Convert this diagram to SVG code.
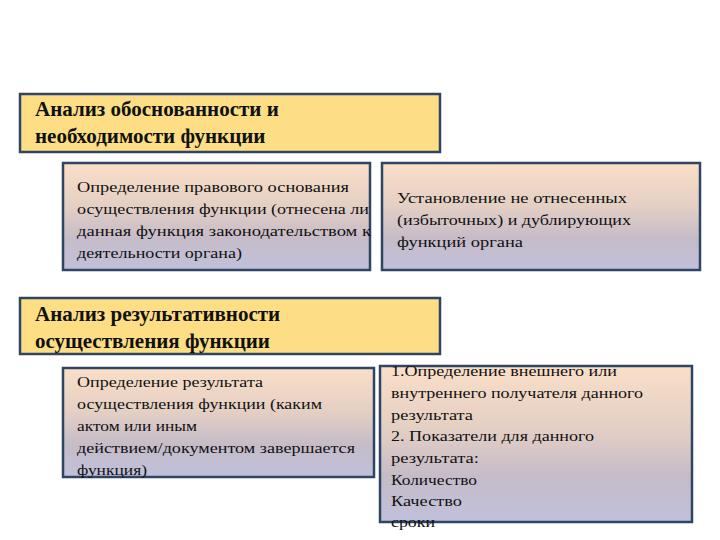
<svg xmlns="http://www.w3.org/2000/svg" width="720" height="540" viewBox="0 0 720 540">
<style>
.h{fill:#fdde85;stroke:#2f4563;stroke-width:2.5}
.b{fill:url(#g);stroke:#2f4563;stroke-width:2.5}
.ht{font-family:"Liberation Serif","Times New Roman","DejaVu Serif",serif;font-size:21px;font-weight:bold;fill:#111}
.t{font-family:"Liberation Serif","Times New Roman","DejaVu Serif",serif;font-size:15.5px;fill:#111}
</style>
<defs>
<linearGradient id="g" x1="0" y1="0" x2="0" y2="1">
<stop offset="0" stop-color="#fadfc8"/><stop offset="0.4" stop-color="#e4cfc4"/><stop offset="0.7" stop-color="#c6bcc8"/><stop offset="1" stop-color="#c0c0db"/>
</linearGradient>
</defs>
<rect width="720" height="540" fill="#fff"/>
<g id="n1"><rect class="h" x="20" y="94" width="420" height="58"/>
<text class="ht" x="35" y="116">Анализ обоснованности и</text>
<text class="ht" x="35" y="143">необходимости  функции</text></g>
<g id="n2"><rect class="b" x="63" y="163" width="307" height="107"/>
<text class="t" x="77" y="192" textLength="272" lengthAdjust="spacingAndGlyphs">Определение  правового основания</text>
<text class="t" x="77" y="214" textLength="292" lengthAdjust="spacingAndGlyphs">осуществления функции (отнесена ли</text>
<text class="t" x="77" y="236" textLength="294" lengthAdjust="spacingAndGlyphs">данная функция  законодательством к</text>
<text class="t" x="77" y="258" textLength="165" lengthAdjust="spacingAndGlyphs">деятельности органа)</text></g>
<g id="n3"><rect class="b" x="382" y="163" width="318" height="107"/>
<text class="t" x="397" y="203" textLength="230" lengthAdjust="spacingAndGlyphs">Установление  не отнесенных</text>
<text class="t" x="397" y="225" textLength="234" lengthAdjust="spacingAndGlyphs">(избыточных) и дублирующих</text>
<text class="t" x="397" y="247" textLength="126" lengthAdjust="spacingAndGlyphs">функций  органа</text></g>
<g id="n4"><rect class="h" x="20" y="298" width="420" height="56"/>
<text class="ht" x="35" y="321">Анализ  результативности</text>
<text class="ht" x="35" y="348">осуществления функции</text></g>
<g id="n5"><rect class="b" x="63" y="368" width="311" height="109"/>
<text class="t" x="77" y="387" textLength="186" lengthAdjust="spacingAndGlyphs">Определение результата</text>
<text class="t" x="77" y="409" textLength="245" lengthAdjust="spacingAndGlyphs">осуществления функции (каким</text>
<text class="t" x="77" y="431" textLength="120" lengthAdjust="spacingAndGlyphs">актом или иным</text>
<text class="t" x="77" y="453" textLength="278" lengthAdjust="spacingAndGlyphs">действием/документом завершается</text>
<text class="t" x="77" y="475" textLength="70" lengthAdjust="spacingAndGlyphs">функция)</text></g>
<g id="n6"><rect class="b" x="380" y="366" width="312" height="156"/>
<text class="t" x="391" y="376" textLength="226" lengthAdjust="spacingAndGlyphs">1.Определение внешнего или</text>
<text class="t" x="391" y="398" textLength="252" lengthAdjust="spacingAndGlyphs">внутреннего получателя данного</text>
<text class="t" x="391" y="420" textLength="82" lengthAdjust="spacingAndGlyphs">результата</text>
<text class="t" x="391" y="441" textLength="203" lengthAdjust="spacingAndGlyphs">2. Показатели для данного</text>
<text class="t" x="391" y="463" textLength="88" lengthAdjust="spacingAndGlyphs">результата:</text>
<text class="t" x="391" y="485" textLength="86" lengthAdjust="spacingAndGlyphs">Количество</text>
<text class="t" x="391" y="506" textLength="71" lengthAdjust="spacingAndGlyphs">Качество</text>
<text class="t" x="391" y="527" textLength="44" lengthAdjust="spacingAndGlyphs">сроки</text></g>
<g id="connectors"/>
</svg>
